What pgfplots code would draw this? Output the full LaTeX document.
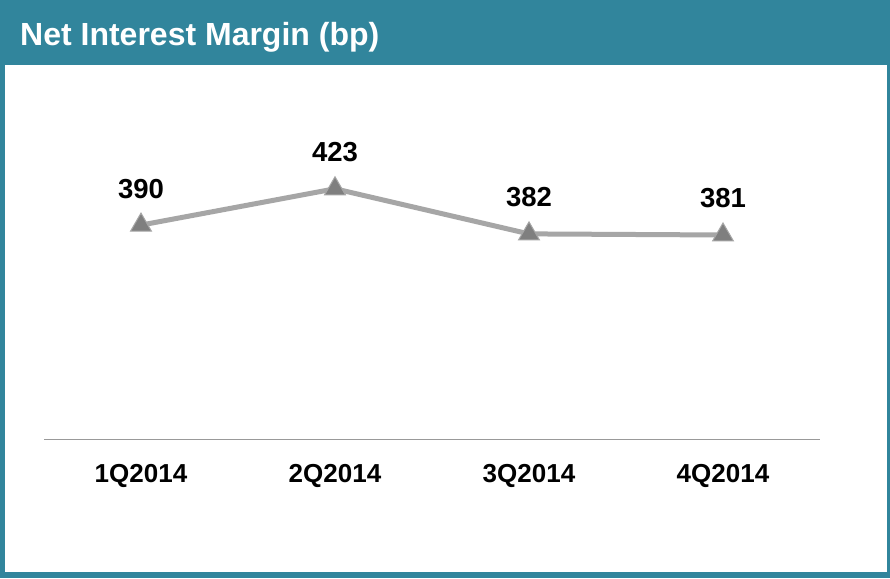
\documentclass[border=0pt]{standalone}
\usepackage{pgfplots}
\pgfplotsset{compat=1.18}
\usepackage{fontspec}
\setmainfont{Liberation Sans}
\definecolor{frameteal}{HTML}{31859C}
\definecolor{linegray}{HTML}{A6A6A6}
\definecolor{markgray}{HTML}{7F7F7F}
\definecolor{axisgray}{HTML}{999999}
\begin{document}
\begin{tikzpicture}[x=1pt,y=1pt]
% frame and title bar
\fill[frameteal] (0,0) rectangle (890,578);
\fill[white] (5,6) rectangle (886.5,513);
\node[anchor=base west,text=white,inner sep=0pt,font=\fontsize{32}{37}\selectfont\bfseries]
  at (20,532) {Net Interest Margin (bp)};
\begin{axis}[
    at={(44pt,138.4pt)}, anchor=south west,
    scale only axis,
    width=776pt, height=335.5pt,
    xmin=-0.5, xmax=3.5,
    ymin=195, ymax=500,
    axis x line=bottom,
    axis y line=none,
    x axis line style={-, axisgray, line width=1.8pt},
    xtick={0,1,2,3},
    xticklabels={1Q2014,2Q2014,3Q2014,4Q2014},
    major tick length=0pt,
    xticklabel style={anchor=base, yshift=-42.5pt, inner sep=0pt,
        font=\fontsize{26}{30}\selectfont\bfseries},
    clip=false,
    nodes near coords,
    point meta=explicit symbolic,
    nodes near coords style={anchor=base, yshift=27pt, inner sep=0pt,
        font=\fontsize{27.5}{32}\selectfont\bfseries, text=black},
]
\addplot[color=linegray, line width=5pt,
    mark=triangle*, mark size=12pt,
    mark options={fill=markgray, draw=linegray, line width=1pt}]
  coordinates {
    (0,390) [390]
    (1,423) [423]
    (2,382) [382]
    (3,381) [381]
};
\end{axis}
\end{tikzpicture}
\end{document}
